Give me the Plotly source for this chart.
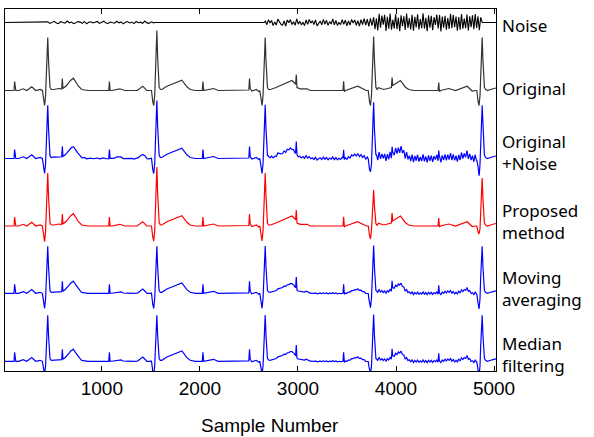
import numpy as np
import plotly.graph_objects as go

# R-peak sample positions of the five beats
beat_x = [448, 1561, 2666, 3772, 4879]

# QRS shape around each R peak (offset in samples, share of R height, share of Q depth)
qrs_dx = [-55, -42, -32, -22, -13, -4, 0, 8, 15, 23, 35]
qrs_up = [0, 0, 0, 0, 0.46, 0.93, 1.0, 0.56, 0.22, 0.06, 0.02]
qrs_down = [0, 0.73, 1.0, 0.33, 0, 0, 0, 0, 0, 0, 0]

# rest of the original ECG (P waves, T waves, pacing spikes)
bg_x = [12, 104, 110, 116, 122, 150, 199, 234, 285, 325, 370,
        510, 560, 590, 597, 603, 640, 680, 710, 761, 795, 859,
        1070, 1077, 1084, 1100, 1183, 1234, 1360, 1417, 1458,
        1612, 1663, 1731, 1816, 1867, 1901, 1952,
        2024, 2031, 2038, 2139, 2187, 2499, 2506, 2513, 2530, 2575, 2600,
        2720, 2769, 2854, 2939, 2960, 2976, 2983, 2990, 3024, 3092, 3126,
        3459, 3466, 3473, 3485, 3609, 3698,
        3820, 3875, 3925, 3953, 3960, 3967, 4045, 4096, 4130, 4181,
        4429, 4436, 4443, 4455, 4538, 4606, 4726, 4777, 4810,
        4930, 4981, 5020]
bg_y = [0, 0, 9, 0.5, 0, 0, 1.7, 0, 3.7, 0, 1,
        1, 2, 1.5, 12, 2, 5, 10, 12.3, 4.3, 1, 0,
        0, 9, 0, 0, 1.7, 0, 0, 4.3, 0,
        1, 4.3, 6.7, 10.3, 3.7, 1, 0,
        0, 9, 0, 2, 0, 0.5, 12, 2, -0.5, 1, -1,
        1, 2.7, 6.7, 10, 8, 6, 16, 3, 1.7, 1.7, 0,
        0, 9.3, -1, 0, 4.3, 0,
        2.7, 1, 2, 3, 13, 5, 10, 3.3, 1, 0,
        0, 8, -1, 0, 2, 0, 4.3, -0.5, 0,
        0, 1.5, 2.5]

# R heights and Q depths per beat for each trace
r_height = {
    "Original": [53, 60, 53, 54, 53],
    "Original+Noise": [53, 58, 53, 54, 53],
    "Proposed": [53, 59, 53, 36, 48],
    "Moving": [47, 47, 47, 47, 47],
    "Median": [46, 46, 46, 46, 46],
}
q_depth = {
    "Original": [15, 15, 15, 15, 15],
    "Original+Noise": [15, 15, 15, 15, 15],
    "Proposed": [15.7, 15, 15, 13, 8],
    "Moving": [15, 15, 15, 15, 15],
    "Median": [13, 13, 13, 13, 13],
}

# noise segments (start sample, step in samples, values)
noise_small = [0.6, -0.9, 0.3, 1.2, -0.4, -1.1, 0.8, 0.2, -0.7, 1.4,
               -0.3, 0.5, -1.2, -0.2, 0.9, 0.4, -0.8, 1.1, -1.3, 0.2,
               0.7, -0.5, -0.1, 1.0, -0.9, 0.3, 1.3, -0.6, -1.0, 0.5,
               0.1, -0.7, 1.2, -0.3, 0.6, -1.4, 0.2, 0.9, -0.5, 0.4,
               -1.1, 1.0, -0.2, 0.3, -0.8, 1.5, -0.4, -0.9, 0.7, -0.3]
noise_mid = [1.5, -2.2, 2.8, -0.4, 2.0, -3.1, 0.6, -2.5, 3.4, 1.0,
             -1.8, -2.7, 1.6, -3.5, 2.6, -0.3, 2.9, -2.0, 0.8, -2.8,
             3.7, -1.6, 1.1, -2.4, 0.4, -3.2, 2.5, -1.9, 3.0, -0.6,
             1.7, -2.1, 2.7, -3.4, -0.5, 1.5, -2.3, 3.2, -1.7, 2.2,
             -2.9, 0.9, -1.5, 3.5, -2.4, 2.0, -3.0, 0.3, -2.2, 2.8,
             -1.8, 2.4, -3.3, 1.6, -2.6, 3.1, -0.4, 2.5, -2.8, 1.8,
             -3.6, 2.9, -2.0, 3.8, -2.5, 3.3, -3.9, 4.2, -3.1]
noise_big = [5.2, -6.8, 4.1, -7.9, 8.6, -5.3, 6.9, -2.2, 7.7, -8.4,
             5.6, -6.1, 9.0, -7.2, 2.8, -5.9, 8.1, -6.6, 5.0, -8.8,
             7.3, -3.6, 6.2, -7.5, 8.9, -5.4, 4.3, -6.9, 7.8, -8.1,
             5.7, -4.9, 8.3, -7.0, 3.4, -5.6, 9.2, -6.3, 4.7, -8.6,
             7.1, -5.1, 6.6, -7.7, 5.3, -2.4, 8.0, -6.0, 7.4, -8.9,
             5.9, -5.2, 6.8, -7.3, 4.5, -6.4, 8.7, -5.8, 7.6, -4.8,
             6.0, -8.3, 5.5, -7.1, 8.4, -6.2, 3.9, -5.7, 7.9, -8.0,
             6.3, -4.7, 7.2, -6.7, 8.5, -5.5, 6.1, -7.6, 5.1]
noise_segments = [(448, 22, noise_small), (2667, 16, noise_mid), (3772, 14, noise_big)]

# how much noise is left in each trace
noise_gain = {"Original": 0, "Original+Noise": 0.45, "Proposed": 0, "Moving": 0.15, "Median": 0.15}

# vertical offsets (stacked traces) and colours
offsets = {"Noise": 348.5, "Original": 280.5, "Original+Noise": 212.5,
           "Proposed": 145, "Moving": 77.7, "Median": 9.7}
colors = {"Noise": "#000000", "Original": "#333333", "Original+Noise": "#0000ff",
          "Proposed": "#ff0000", "Moving": "#0000ff", "Median": "#0000ff"}

# right-hand labels (text, y position)
label_text = ["Noise", "Original", "Original<br>+Noise", "Proposed<br>method",
              "Moving<br>averaging", "Median<br>filtering"]
label_y = [346, 283, 218.7, 149.3, 82.5, 17]

x_ticks = [1000, 2000, 3000, 4000, 5000]

# build noise series
noise_x = [12, 436]
noise_y = [0, 0]
for start, step, vals in noise_segments:
    for i, v in enumerate(vals):
        noise_x.append(start + i * step)
        noise_y.append(v)
    if start == 448:
        noise_x += [1540, 2655]
        noise_y += [0, 0]
noise_x += [4880, 5020]
noise_y += [0, 0]


def build(name):
    xs = list(bg_x)
    ys = list(bg_y)
    for b, rh, qd in zip(beat_x, r_height[name], q_depth[name]):
        for dx, u, d in zip(qrs_dx, qrs_up, qrs_down):
            xs.append(b + dx)
            ys.append(u * rh - d * qd)
    xs = np.array(xs)
    ys = np.array(ys)
    order = np.argsort(xs)
    xs, ys = xs[order], ys[order]
    k = noise_gain[name]
    if k:
        xa = np.array(sorted(set(xs.tolist()) | set(noise_x)))
        ya = np.interp(xa, xs, ys) + k * np.interp(xa, noise_x, noise_y)
        xs, ys = xa, ya
    return xs, ys


fig = go.Figure()

fig.add_trace(go.Scatter(x=noise_x, y=np.array(noise_y) + offsets["Noise"], mode="lines",
                         line=dict(color=colors["Noise"], width=1.1), showlegend=False))

for name in ["Original", "Original+Noise", "Proposed", "Moving", "Median"]:
    xs, ys = build(name)
    fig.add_trace(go.Scatter(x=xs, y=ys + offsets[name], mode="lines",
                             line=dict(color=colors[name], width=1.2), showlegend=False))

for t, y in zip(label_text, label_y):
    fig.add_annotation(text=t, x=1, xref="paper", xanchor="left", xshift=4,
                       y=y, yref="y", yanchor="middle", align="left", showarrow=False,
                       font=dict(family="Noto Sans", size=17, color="black"))

# axis title placed as an annotation so it can sit right of centre like the original
fig.add_annotation(text="Sample Number", x=0.54, xref="paper", xanchor="center",
                   y=0, yref="paper", yanchor="middle", yshift=-54, showarrow=False,
                   font=dict(family="Liberation Sans", size=19, color="black"))

fig.update_layout(
    width=594, height=437,
    margin=dict(l=5, r=98, t=9, b=66),
    plot_bgcolor="white", paper_bgcolor="white",
    xaxis=dict(range=[12, 5020], tickvals=x_ticks, ticks="inside", ticklen=5,
               tickcolor="black", showline=True, linecolor="black", linewidth=1,
               mirror="ticks", showgrid=False, zeroline=False,
               tickfont=dict(family="Liberation Sans", size=19, color="black")),
    yaxis=dict(range=[0, 362], showticklabels=False, ticks="", showline=True,
               linecolor="black", linewidth=1, mirror=True, showgrid=False, zeroline=False),
)

# the page body has a default 8px margin; remove it so the figure sits at the corner
fig.write_html("out.html", config={"displayModeBar": False},
               post_script="document.body.style.margin='0';")
